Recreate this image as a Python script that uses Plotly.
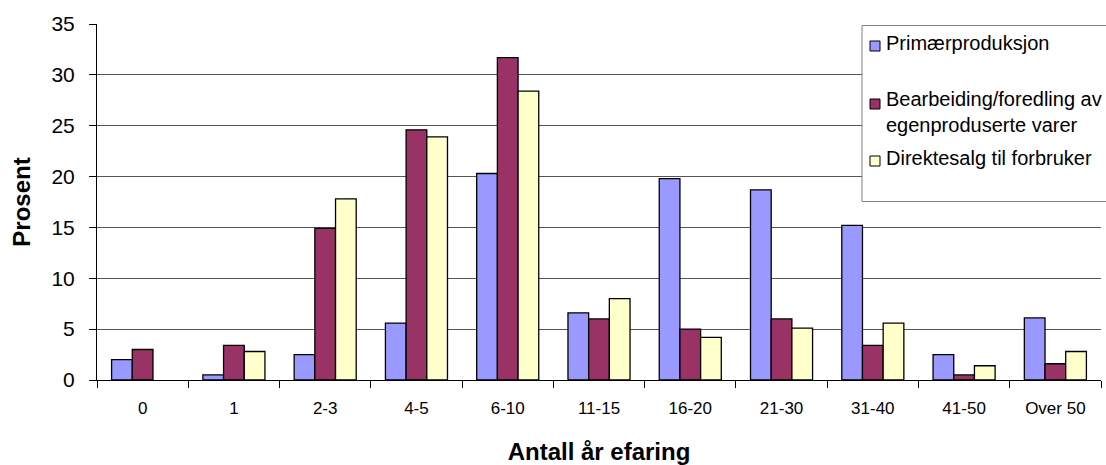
import plotly.graph_objects as go

categories = ["0", "1", "2-3", "4-5", "6-10", "11-15", "16-20", "21-30", "31-40", "41-50", "Over 50"]
primaer = [2.0, 0.5, 2.5, 5.6, 20.3, 6.6, 19.8, 18.7, 15.2, 2.5, 6.1]
bearbeiding = [3.0, 3.4, 14.9, 24.6, 31.7, 6.0, 5.0, 6.0, 3.4, 0.5, 1.6]
direktesalg = [None, 2.8, 17.8, 23.9, 28.4, 8.0, 4.2, 5.1, 5.6, 1.4, 2.8]

series_names = [
    "Primærproduksjon",
    "Bearbeiding/foredling av<br>egenproduserte varer",
    "Direktesalg til forbruker",
]
series_values = [primaer, bearbeiding, direktesalg]
series_colors = ["#9999FF", "#993366", "#FFFFCC"]

# plot area in pixels, used to place the key box in paper units
W, H = 1106, 465
L, R, T, B = 97, 5, 24, 85
PW, PH = W - L - R, H - T - B


def px(x):
    return (x - L) / PW


def py(y):
    return (H - B - y) / PH


fig = go.Figure()
for name, vals, col in zip(series_names, series_values, series_colors):
    fig.add_trace(go.Bar(
        x=categories, y=vals, name=name, showlegend=False,
        marker=dict(color=col, line=dict(color="black", width=1.3)),
    ))

font = "Arial, Liberation Sans, sans-serif"

# key box (open on the right, running past the page edge)
fig.add_shape(type="rect", xref="paper", yref="paper",
              x0=px(862), x1=px(1120), y0=py(201.5), y1=py(25.5),
              line=dict(color="#808080", width=1), fillcolor="white", layer="above")

# key entries: text centre line and swatch centre (px) for each series
key_rows = [42.5, 112.5, 157.5]
swatch_rows = [46, 104, 161]
for name, col, ty, sy in zip(series_names, series_colors, key_rows, swatch_rows):
    fig.add_shape(type="rect", xref="paper", yref="paper",
                  x0=px(870), x1=px(880), y0=py(sy + 5), y1=py(sy - 5),
                  line=dict(color="black", width=1), fillcolor=col, layer="above")
    fig.add_annotation(xref="paper", yref="paper", x=px(884), y=py(ty),
                       xanchor="left", yanchor="middle", text=name, showarrow=False,
                       align="left", font=dict(size=20, family=font, color="black"))

fig.update_layout(
    width=W, height=H,
    margin=dict(l=L, r=R, t=T, b=B),
    paper_bgcolor="white", plot_bgcolor="white",
    barmode="group", bargap=0.32, bargroupgap=0,
    font=dict(family=font, color="black"),
    showlegend=False,
    xaxis=dict(
        title=dict(text="<b>Antall år efaring</b>", font=dict(size=24), standoff=26),
        tickfont=dict(size=17), showline=True, linecolor="black", linewidth=1,
        ticks="outside", tickson="boundaries", ticklen=7, tickcolor="black",
        ticklabelstandoff=13, showgrid=False, automargin=False,
    ),
    yaxis=dict(
        title=dict(text="<b>Prosent</b>", font=dict(size=24), standoff=14),
        range=[0, 35], dtick=5, tickfont=dict(size=21),
        showline=True, linecolor="black", linewidth=1,
        ticks="outside", ticklen=7, tickcolor="black", ticklabelstandoff=10,
        showgrid=True, gridcolor="#555555", gridwidth=1, zeroline=False,
        automargin=False,
    ),
)

fig.write_html("out.html")
